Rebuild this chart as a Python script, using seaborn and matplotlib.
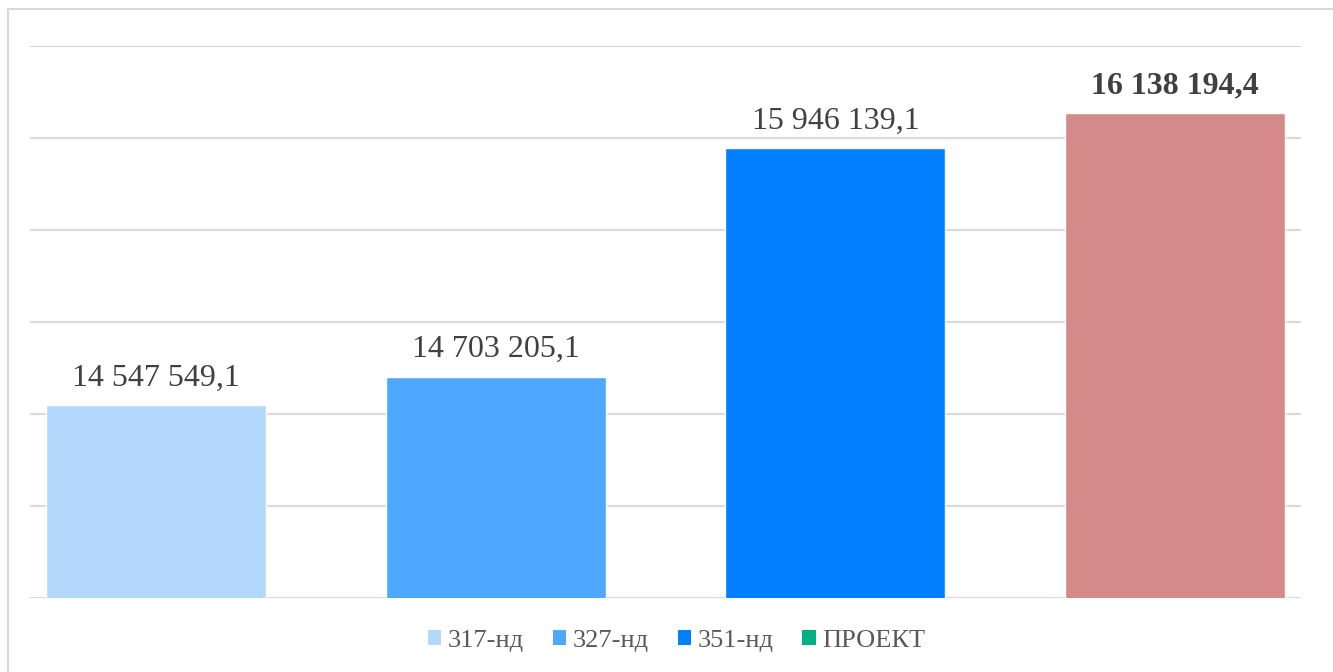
import matplotlib
matplotlib.use("Agg")
import matplotlib.pyplot as plt
from matplotlib.patches import Patch, Rectangle
import seaborn as sns

# ─── Data ─────────────────────────────────────────────────────────────────────

categories = ["317-нд", "327-нд", "351-нд", "ПРОЕКТ"]
values = [14547549.1, 14703205.1, 15946139.1, 16138194.4]
labels = ["14 547 549,1", "14 703 205,1", "15 946 139,1", "16 138 194,4"]

bar_colors = ["#b4d8fc", "#4fa8ff", "#0080ff", "#d48a88"]
legend_colors = ["#b4d8fc", "#4fa8ff", "#0080ff", "#00b084"]

# ─── Plot ─────────────────────────────────────────────────────────────────────

sns.set_theme(style="white")
plt.rcParams["font.family"] = ["Liberation Serif", "DejaVu Serif"]

fig = plt.figure(figsize=(13.33, 6.72), dpi=100)
ax = fig.add_axes([30 / 1333, 74 / 672, 1271 / 1333, 552 / 672])

sns.barplot(x=categories, y=values, hue=categories, palette=bar_colors,
            legend=False, width=0.647, saturation=1, ax=ax)

ax.set_ylim(13500000, 16500000)
ax.set_xlim(-0.371, 3.371)
ax.set_yticks(range(13500000, 16500001, 500000))
ax.yaxis.grid(True, color="#d9d9d9", linewidth=1.5)
ax.set_axisbelow(True)
ax.tick_params(left=False, bottom=False, labelleft=False, labelbottom=False)
ax.set_xlabel("")
ax.set_ylabel("")
for s in ax.spines.values():
    s.set_visible(False)

for i, (v, lab) in enumerate(zip(values, labels)):
    ax.annotate(lab, (i, v), xytext=(0, 9), textcoords="offset points",
                ha="center", va="bottom", fontsize=23, color="#404040",
                fontweight="bold" if i == 3 else "normal")

handles = [Patch(facecolor=c, edgecolor="none") for c in legend_colors]
fig.legend(handles, categories, loc="center",
           bbox_to_anchor=(0.5 + 10 / 1333, 1 - 641 / 672),
           ncol=4, frameon=False, fontsize=19, handlelength=0.5, handleheight=0.5,
           handletextpad=0.25, columnspacing=1.1, labelcolor="#595959")

# chart border
fig.patches.append(Rectangle((8 / 1333, -0.1), 1.2, 1 - 9 / 672 + 0.1,
                             transform=fig.transFigure, fill=False,
                             edgecolor="#d9d9d9", linewidth=1.5))

fig.savefig("out.png", dpi=100)
